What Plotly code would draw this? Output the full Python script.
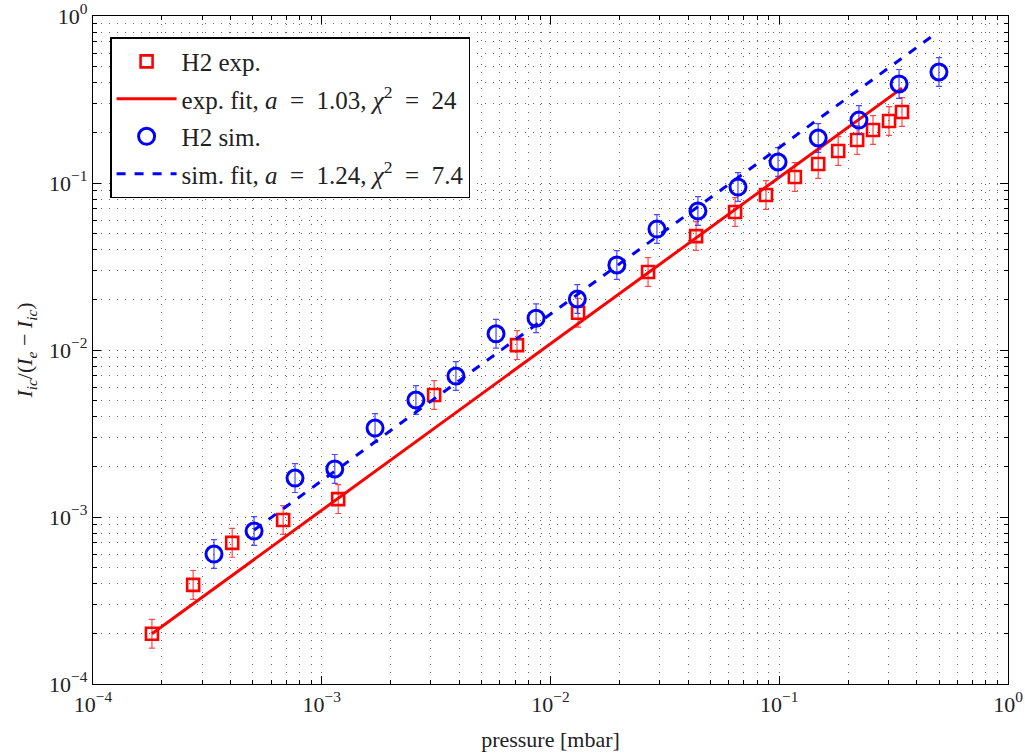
import plotly.graph_objects as go

# ---- data ----
exp_p = [1.81e-4, 2.74e-4, 4.06e-4, 6.78e-4, 1.18e-3, 3.10e-3, 7.14e-3, 1.32e-2,
         2.67e-2, 4.33e-2, 6.41e-2, 8.75e-2, 0.117, 0.148, 0.181, 0.219, 0.257, 0.302, 0.344]
exp_y = [2.0e-4, 3.92e-4, 7.0e-4, 9.6e-4, 1.28e-3, 5.38e-3, 1.07e-2, 1.67e-2,
         2.93e-2, 4.81e-2, 6.7e-2, 8.48e-2, 0.1086, 0.130, 0.1555, 0.181, 0.2077, 0.235, 0.266]

sim_p = [3.38e-4, 5.06e-4, 7.64e-4, 1.14e-3, 1.71e-3, 2.58e-3, 3.86e-3, 5.78e-3, 8.65e-3,
         1.31e-2, 1.95e-2, 2.92e-2, 4.41e-2, 6.6e-2, 9.88e-2, 0.148, 0.223, 0.334, 0.499]
sim_y = [6.0e-4, 8.24e-4, 1.71e-3, 1.94e-3, 3.41e-3, 5.02e-3, 6.98e-3, 1.25e-2, 1.55e-2,
         2.02e-2, 3.23e-2, 5.3e-2, 6.8e-2, 9.46e-2, 0.1336, 0.186, 0.238, 0.392, 0.462]

exp_fit_p = [1.81e-4, 0.344]
exp_fit_y = [2.0e-4, 0.37]
sim_fit_p = [5.06e-4, 0.494]
sim_fit_y = [8.36e-4, 0.802]

rel_err_up = 0.22
rel_err_dn = 0.18

tick_vals = [1e-4, 1e-3, 1e-2, 1e-1, 1]
tick_text = ["10<sup>−4</sup>", "10<sup>−3</sup>", "10<sup>−2</sup>", "10<sup>−1</sup>", "10<sup>0</sup>"]
decades = [1e-4, 1e-3, 1e-2, 1e-1]
minor_digits = [2, 3, 4, 5, 6, 7, 8, 9]
minor_vals = [d * k for d in decades for k in minor_digits]

RED = "#ff0000"
BLUE = "#0000ff"
FONT = "Liberation Serif"
EQ = "\u2002=\u2002"

fig = go.Figure()

fig.add_trace(go.Scatter(
    x=exp_p, y=exp_y, mode="markers", name="H2 exp.", legendgroup="a",
    marker=dict(symbol="square-open", size=12, color=RED, line=dict(width=2.6, color=RED)),
    error_y=dict(type="data", symmetric=False,
                 array=[v * rel_err_up for v in exp_y],
                 arrayminus=[v * rel_err_dn for v in exp_y],
                 color="rgba(255,40,40,0.85)", thickness=1.2, width=3),
))
fig.add_trace(go.Scatter(
    x=exp_fit_p, y=exp_fit_y, mode="lines", legendgroup="b",
    name=f"exp. fit, <i>a</i>{EQ}1.03, <i>χ</i><sup>2</sup>{EQ}24",
    line=dict(color=RED, width=3),
))
fig.add_trace(go.Scatter(
    x=sim_p, y=sim_y, mode="markers", name="H2 sim.", legendgroup="c",
    marker=dict(symbol="circle-open", size=16, color=BLUE, line=dict(width=3, color=BLUE)),
    error_y=dict(type="data", symmetric=False,
                 array=[v * rel_err_up for v in sim_y],
                 arrayminus=[v * rel_err_dn for v in sim_y],
                 color="rgba(40,40,255,0.85)", thickness=1.2, width=3),
))
fig.add_trace(go.Scatter(
    x=sim_fit_p, y=sim_fit_y, mode="lines", legendgroup="d",
    name=f"sim. fit, <i>a</i>{EQ}1.24, <i>χ</i><sup>2</sup>{EQ}7.4",
    line=dict(color=BLUE, width=3, dash="dash"),
))

GRID = "rgba(0,0,0,0.6)"
DOTS = "1px,7px"
axis_common = dict(
    type="log", showline=True, linecolor="black", linewidth=1.2, mirror="allticks",
    ticks="inside", ticklen=8, tickcolor="black", tickwidth=1, automargin=False,
    showgrid=True, gridcolor=GRID, griddash=DOTS, gridwidth=1,
    tickmode="array", tickvals=tick_vals, ticktext=tick_text, zeroline=False,
    tickfont=dict(family=FONT, size=22, color="#222"),
    minor=dict(tickmode="array", tickvals=minor_vals, ticks="inside", ticklen=4,
               tickcolor="black", showgrid=True, gridcolor=GRID, griddash=DOTS, gridwidth=1),
)

fig.update_layout(
    width=1025, height=754,
    margin=dict(l=93, r=17, t=16, b=70),
    paper_bgcolor="white", plot_bgcolor="white",
    font=dict(family=FONT, size=20, color="#222"),
    showlegend=True,
    legend=dict(x=0.019, y=0.968, xanchor="left", yanchor="top",
                bgcolor="white", bordercolor="black", borderwidth=1.2,
                font=dict(family=FONT, size=25, color="#222"),
                tracegroupgap=2, itemwidth=60),
    xaxis=dict(axis_common, range=[-4, 0],
               title=dict(text="pressure [mbar]", standoff=16,
                          font=dict(family=FONT, size=22, color="#222"))),
    yaxis=dict(axis_common, range=[-4, 0],
               title=dict(text="<i>I<sub>ic</sub></i>/(<i>I<sub>e</sub></i> − <i>I<sub>ic</sub></i>)",
                          standoff=10, font=dict(family=FONT, size=22, color="#222"))),
)

fig.write_html("out.html")
